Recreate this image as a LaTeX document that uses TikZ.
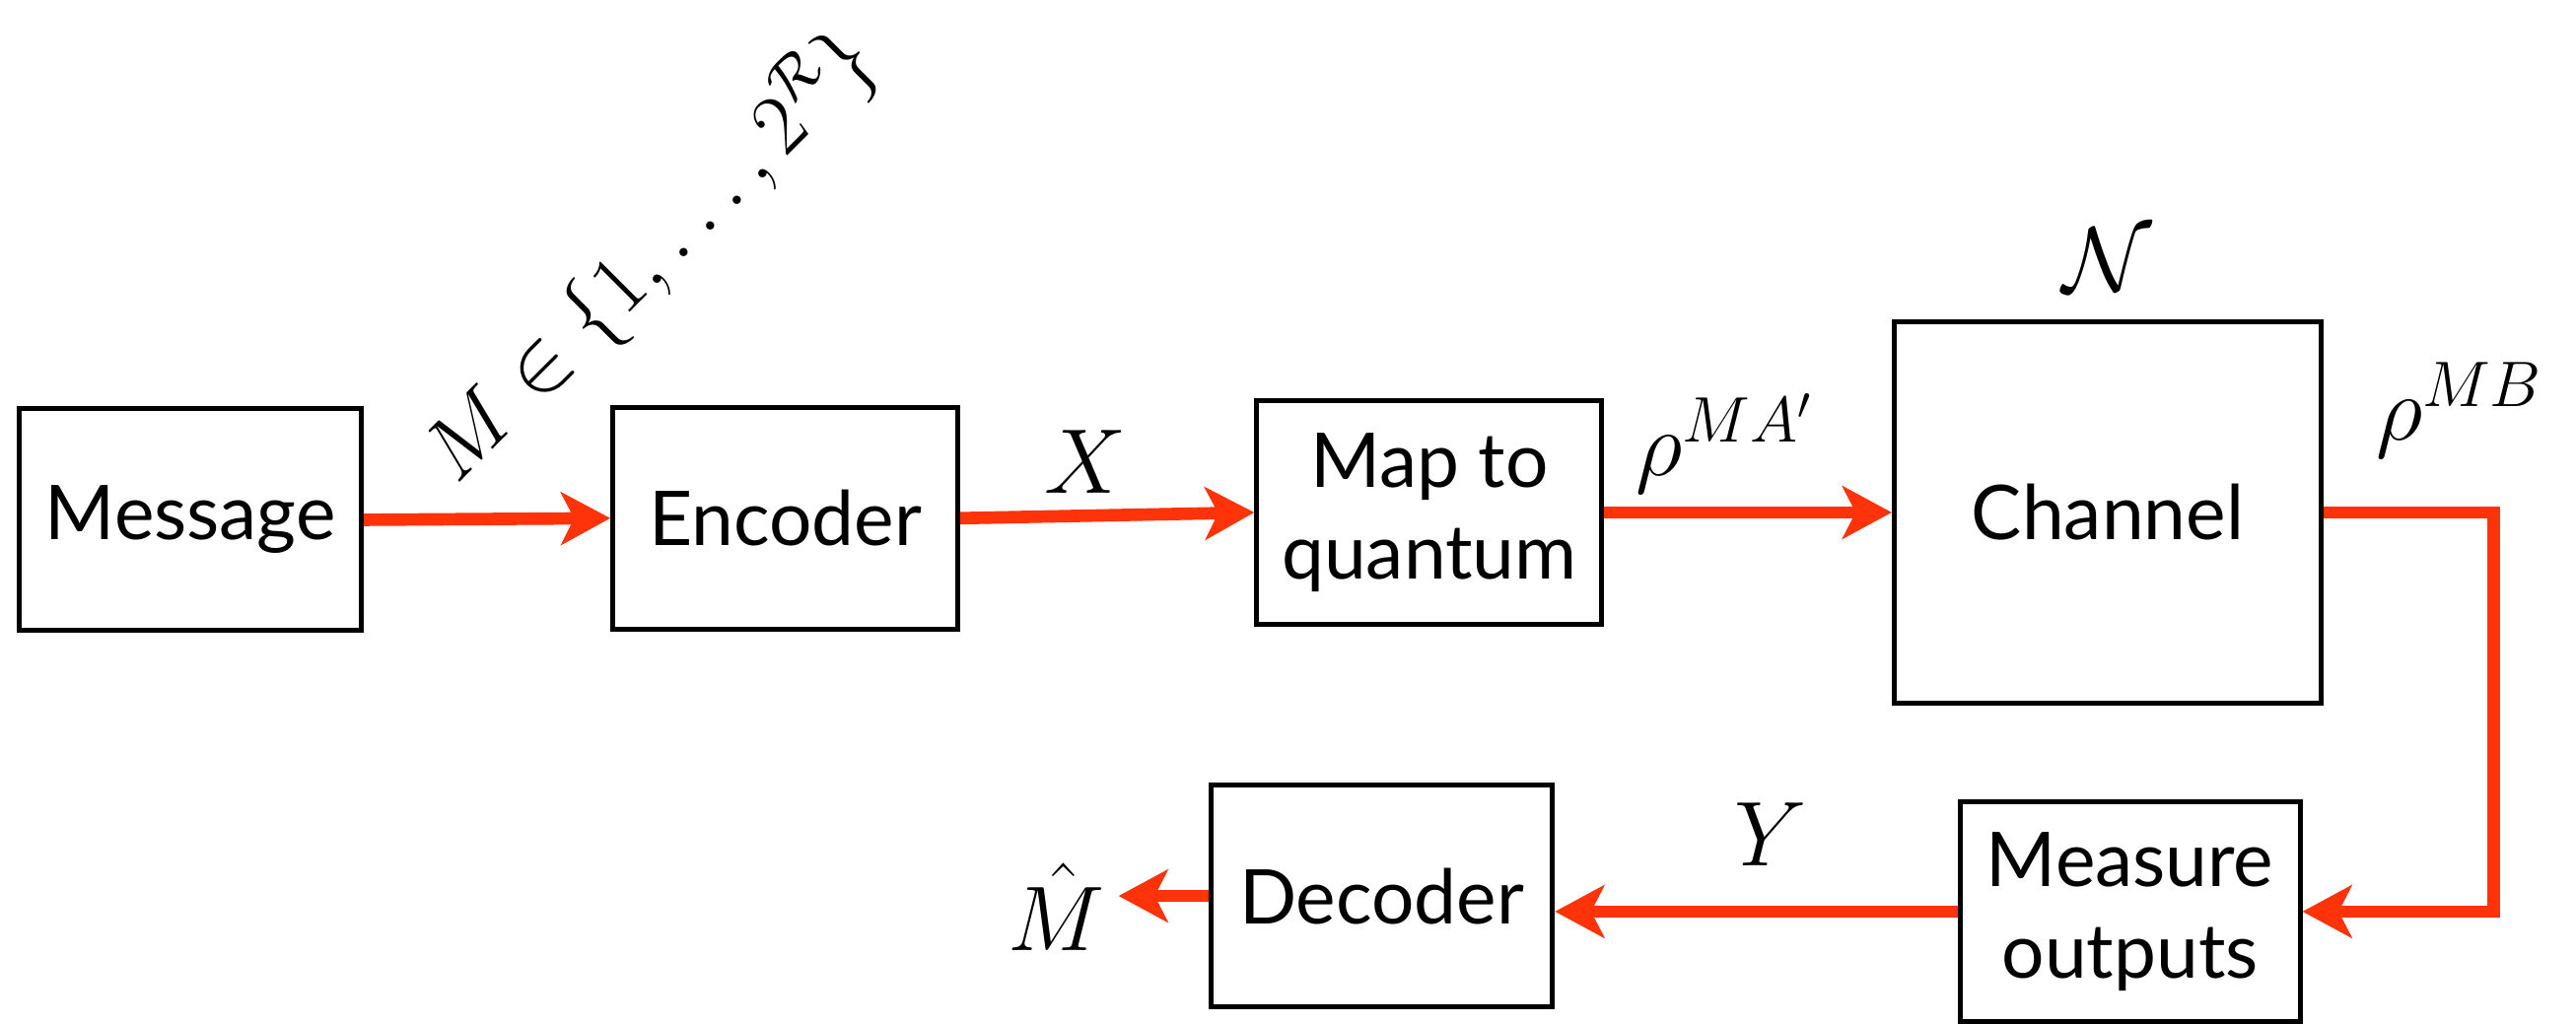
\RequirePackage{fix-cm}
\documentclass[tikz,border=0pt]{standalone}
\usepackage{fontspec}
\newfontfamily\blkfont{Lato}
\usetikzlibrary{arrows.meta,calc}
\definecolor{flowred}{RGB}{255,51,10}
\begin{document}
\begin{tikzpicture}[x=0.5pt,y=-0.5pt,
  blk/.style={draw, line width=1.5pt, inner sep=0pt, align=center,
    font=\blkfont\fontsize{23}{28}\selectfont},
  lbl/.style={inner sep=1pt, font=\fontsize{28}{33}\selectfont},
  flow/.style={draw=flowred, line width=3.8pt, line join=miter,
    -{Stealth[length=15pt,width=16pt,inset=4pt,color=flowred]}}]
\useasboundingbox (0,0) rectangle (1568,623);
% blocks
\node[blk, minimum width=104pt, minimum height=67.5pt] (msg)  at (116,316.5) {Message};
\node[blk, minimum width=105pt, minimum height=67.5pt] (enc)  at (478,315.5) {Encoder};
\node[blk, minimum width=105pt, minimum height=68pt]   (map)  at (870,312)   {Map to\\quantum};
\node[blk, minimum width=130pt, minimum height=116pt]  (chan) at (1283,312)  {Channel};
\node[blk, minimum width=103.5pt, minimum height=67pt] (meas) at (1296.5,555) {Measure\\outputs};
\node[blk, minimum width=104pt, minimum height=67.5pt] (dec)  at (841,545.5) {Decoder};
% labels
\node[lbl, rotate=45, font=\fontsize{26}{31}\selectfont] (mset) at (396,156) {$M\in\{1,\ldots,2^{\mathcal{R}}\}$};
\node[lbl] (xl)   at (661,281)  {$X$};
\node[lbl] (rma)  at (1050,270) {$\rho^{MA'}$};
\node[lbl] (nl)   at (1283,158) {$\mathcal{N}$};
\node[lbl] (rmb)  at (1497,250) {$\rho^{MB}$};
\node[lbl] (yl)   at (1078,508) {$Y$};
\node[lbl, inner sep=4pt] (mhat) at (643,552) {$\hat{M}$};
% connectors
\coordinate (turn) at (1518,312);
\draw[flow] (msg.east) -- (enc.west);
\draw[flow] (enc.east) -- (map.west);
\draw[flow] (map.east) -- (chan.west);
\draw[flow] (chan.east) -- (turn) |- (meas.east);
\draw[flow] (meas.west) -- (meas.west -| dec.east);
\draw[flow] (dec.west) -- (dec.west -| mhat.east);
\end{tikzpicture}
\end{document}
